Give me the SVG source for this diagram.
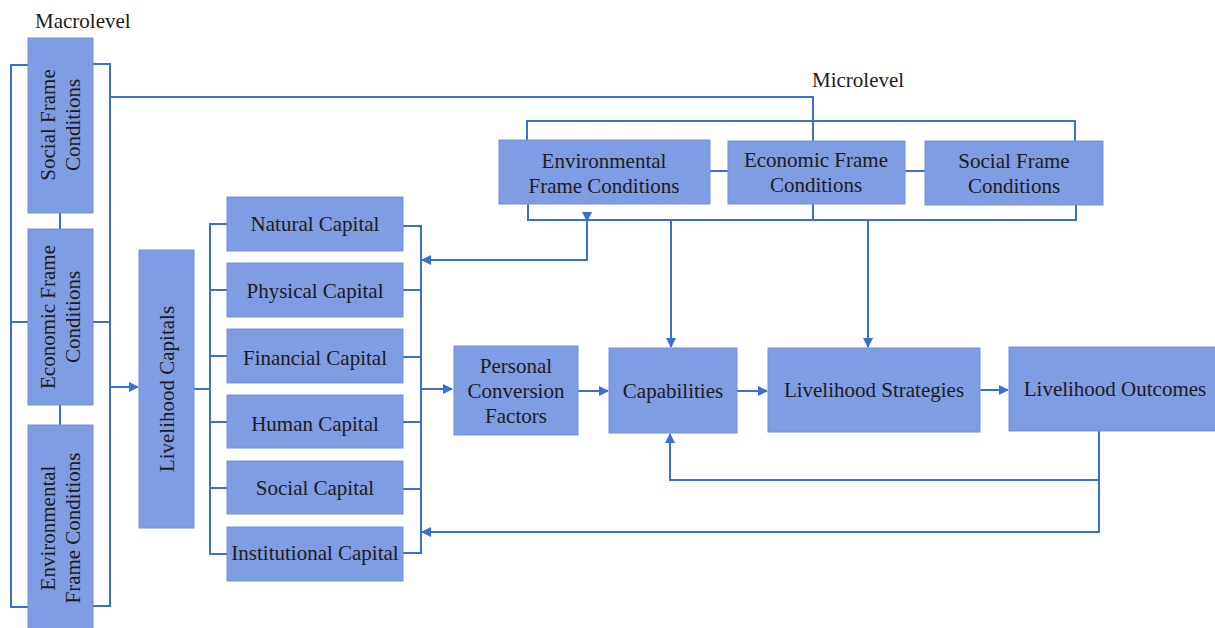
<svg xmlns="http://www.w3.org/2000/svg" width="1215" height="628" viewBox="0 0 1215 628" font-family="Liberation Serif, Times New Roman, serif">
<style>
.box{fill:#7F9DE3;stroke:#7590d8;stroke-width:1}
text{font-family:'Liberation Serif','Times New Roman',serif;font-size:21px;fill:#1c1c1c}
.t{text-anchor:middle;dominant-baseline:central}
.ln{fill:none;stroke:#3A6FD8;stroke-width:2}
</style>
<defs>
<marker id="ah" viewBox="0 0 10 10" refX="9" refY="5" markerWidth="10" markerHeight="10" markerUnits="userSpaceOnUse" orient="auto">
<path d="M0,0 L10,5 L0,10 z" fill="#3A6FD8"/>
</marker>
</defs>
<rect width="1215" height="628" fill="#ffffff"/>
<text x="35" y="28" font-family="Liberation Serif, serif">Macrolevel</text>
<text x="812" y="87" font-family="Liberation Serif, serif">Microlevel</text>
<g id="connectors">
<path class="ln" d="M28,65 H11 V607 H28 M11,322 H28"/>
<path class="ln" d="M93,64 H110 V606 H93 M93,322 H110"/>
<path class="ln" d="M60,213 V229 M60,405 V425"/>
<path class="ln" d="M110,97 H813 V141"/>
<path class="ln" d="M110,387 H138" marker-end="url(#ah)"/>
<path class="ln" d="M194,389 H210"/>
<path class="ln" d="M227,224 H210 V554 H227 M210,290 H227 M210,356 H227 M210,422 H227 M210,488 H227"/>
<path class="ln" d="M403,226 H421 V553 H403 M403,290 H421 M403,357 H421 M403,422 H421 M403,489 H421"/>
<path class="ln" d="M587,221 V260 H422" marker-start="url(#ah)" marker-end="url(#ah)"/>
<path class="ln" d="M421,389 H452" marker-end="url(#ah)"/>
<path class="ln" d="M527,140 V121 H1075 V141"/>
<path class="ln" d="M528,204 V220 H1076 V205 M813,204 V220"/>
<path class="ln" d="M710,171 H728 M905,171 H925"/>
<path class="ln" d="M671,220 V347" marker-end="url(#ah)"/>
<path class="ln" d="M868,220 V347" marker-end="url(#ah)"/>
<path class="ln" d="M578,391 H608" marker-end="url(#ah)"/>
<path class="ln" d="M737,391 H767" marker-end="url(#ah)"/>
<path class="ln" d="M980,390 H1008" marker-end="url(#ah)"/>
<path class="ln" d="M1099,431 V532 H422" marker-end="url(#ah)"/>
<path class="ln" d="M1099,480 H670 V434" marker-end="url(#ah)"/>
</g>
<g id="macro-social">
<rect class="box" x="28" y="38" width="65" height="175"/>
<g transform="translate(60.5,125) rotate(-90)"><text class="t" x="0" y="-12.5">Social Frame</text><text class="t" x="0" y="12.5">Conditions</text></g>
</g>
<g id="macro-economic">
<rect class="box" x="28" y="229" width="65" height="176"/>
<g transform="translate(60.5,317) rotate(-90)"><text class="t" x="0" y="-12.5">Economic Frame</text><text class="t" x="0" y="12.5">Conditions</text></g>
</g>
<g id="macro-environmental">
<rect class="box" x="28" y="425" width="65" height="210"/>
<g transform="translate(60.5,528) rotate(-90)"><text class="t" x="0" y="-12.5">Environmental</text><text class="t" x="0" y="12.5">Frame Conditions</text></g>
</g>
<g id="livelihood-capitals">
<rect class="box" x="139" y="250" width="55" height="278"/>
<g transform="translate(166.5,389) rotate(-90)"><text class="t" x="0" y="0">Livelihood Capitals</text></g>
</g>
<g id="natural-capital"><rect class="box" x="227" y="197" width="176" height="54"/><text class="t" x="315" y="224">Natural Capital</text></g>
<g id="physical-capital"><rect class="box" x="227" y="263" width="176" height="54"/><text class="t" x="315" y="291">Physical Capital</text></g>
<g id="financial-capital"><rect class="box" x="227" y="329" width="176" height="54"/><text class="t" x="315" y="358">Financial Capital</text></g>
<g id="human-capital"><rect class="box" x="227" y="395" width="176" height="53"/><text class="t" x="315" y="424">Human Capital</text></g>
<g id="social-capital"><rect class="box" x="227" y="461" width="176" height="53"/><text class="t" x="315" y="488">Social Capital</text></g>
<g id="institutional-capital"><rect class="box" x="227" y="527" width="176" height="54"/><text class="t" x="315" y="553">Institutional Capital</text></g>
<g id="micro-environmental"><rect class="box" x="499" y="140" width="211" height="64"/><text class="t" x="604" y="161">Environmental</text><text class="t" x="604" y="186">Frame Conditions</text></g>
<g id="micro-economic"><rect class="box" x="728" y="141" width="177" height="63"/><text class="t" x="816" y="160">Economic Frame</text><text class="t" x="816" y="185">Conditions</text></g>
<g id="micro-social"><rect class="box" x="925" y="141" width="178" height="64"/><text class="t" x="1014" y="161">Social Frame</text><text class="t" x="1014" y="186">Conditions</text></g>
<g id="personal-conversion"><rect class="box" x="454" y="346" width="124" height="89"/><text class="t" x="516" y="366">Personal</text><text class="t" x="516" y="391">Conversion</text><text class="t" x="516" y="416">Factors</text></g>
<g id="capabilities"><rect class="box" x="609" y="348" width="128" height="85"/><text class="t" x="673" y="391">Capabilities</text></g>
<g id="livelihood-strategies"><rect class="box" x="768" y="348" width="212" height="84"/><text class="t" x="874" y="390">Livelihood Strategies</text></g>
<g id="livelihood-outcomes"><rect class="box" x="1009" y="347" width="210" height="84"/><text class="t" x="1115" y="389">Livelihood Outcomes</text></g>
</svg>
